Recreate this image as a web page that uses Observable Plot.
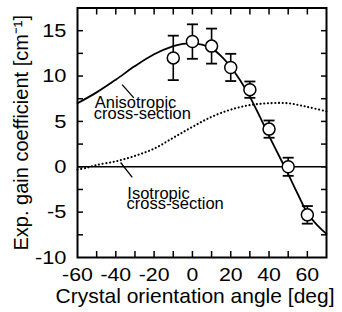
<!DOCTYPE html>
<html><head><meta charset="utf-8">
<script src="https://cdn.jsdelivr.net/npm/d3@7"></script>
<script src="https://cdn.jsdelivr.net/npm/@observablehq/plot@0.6"></script>
<style>body{margin:0;background:#fff;} svg{display:block}</style>
</head><body><div id="chart"></div>
<script>
// measured points
const measAngle = [-10, 0, 10, 20, 30, 40, 50, 60];
const measGain  = [12.0, 13.8, 13.3, 10.95, 8.5, 4.15, 0.0, -5.3];
const measErr   = [2.45, 1.9, 1.93, 1.5, 0.9, 0.95, 1.0, 0.97];
// anisotropic cross-section curve
const anisoAngle = [-60, -50, -40, -30, -20, -10, -5, 0, 5, 10, 15, 20, 25, 30, 35, 40, 45, 50, 55, 60, 65, 70];
const anisoGain  = [7.0, 8.2, 9.6, 11.1, 12.4, 13.3, 13.55, 13.6, 13.45, 13.05, 12.2, 11.0, 9.5, 7.7, 5.6, 3.4, 1.3, -0.8, -3.0, -5.1, -6.4, -7.4];
// isotropic cross-section curve
const isoAngle = [-60, -55, -50, -40, -30, -20, -10, 0, 10, 20, 30, 40, 50, 60, 70];
const isoGain  = [-0.3, -0.1, 0.2, 0.6, 1.2, 2.0, 3.2, 4.4, 5.5, 6.3, 6.8, 7.0, 7.0, 6.6, 6.1];
// ticks
const xTicks = [-50, -40, -30, -20, -10, 0, 10, 20, 30, 40, 50, 60];
const xLabels = [-60, -40, -20, 0, 20, 40, 60];
const yTicks = [-7.5, -5, -2.5, 0, 2.5, 5, 7.5, 10, 12.5, 15];
const yLabels = [-10, -5, 0, 5, 10, 15];
// annotation text
const labelText = ["Anisotropic", "cross-section", "Isotropic", "cross-section"];
const labelX = [-51.0, -51.5, -34.0, -34.4];
const labelY = [6.45, 5.3, -3.5, -4.65];
const leaderX1 = [-36.7, -37.5], leaderY1 = [9.06, 0.47];
const leaderX2 = [-30.6, -31.4], leaderY2 = [7.59, -1.17];
const xTitle = "Crystal orientation angle [deg]";
const yTitle = "Exp. gain coefficient [cm⁻¹]";

const meas = measAngle.map((a, i) => ({a, g: measGain[i], lo: measGain[i] - measErr[i], hi: measGain[i] + measErr[i]}));
const aniso = anisoAngle.map((a, i) => ({a, g: anisoGain[i]}));
const iso = isoAngle.map((a, i) => ({a, g: isoGain[i]}));
const labels = labelText.map((t, i) => ({t, x: labelX[i], y: labelY[i]}));
const leaders = leaderX1.map((x, i) => ({x1: x, y1: leaderY1[i], x2: leaderX2[i], y2: leaderY2[i]}));

const hbar = {draw(ctx, size) { const r = Math.sqrt(size / Math.PI); ctx.moveTo(-r, 0); ctx.lineTo(r, 0); }};
const fmt = d => String(d);

const svg = Plot.plot({
  width: 342, height: 312,
  marginLeft: 77, marginRight: 16, marginTop: 7.5, marginBottom: 55,
  style: {fontFamily: "'Liberation Sans', Arial, sans-serif", color: "black", background: "white"},
  x: {domain: [-60, 70]},
  y: {domain: [-10, 17.5]},
  marks: [
    Plot.ruleY([0], {stroke: "black", strokeWidth: 1.5}),
    Plot.line(iso, {x: "a", y: "g", stroke: "black", strokeWidth: 2.1, strokeDasharray: "0.1,3.6", strokeLinecap: "round", curve: "catmull-rom"}),
    Plot.line(aniso, {x: "a", y: "g", stroke: "black", strokeWidth: 1.8, curve: "catmull-rom"}),
    Plot.ruleX(meas, {x: "a", y1: "lo", y2: "hi", stroke: "black", strokeWidth: 1.6}),
    Plot.dot(meas, {x: "a", y: "lo", symbol: hbar, r: 5.5, stroke: "black", strokeWidth: 1.8}),
    Plot.dot(meas, {x: "a", y: "hi", symbol: hbar, r: 5.5, stroke: "black", strokeWidth: 1.8}),
    Plot.dot(meas, {x: "a", y: "g", r: 6, fill: "white", stroke: "black", strokeWidth: 1.5}),
    Plot.link(leaders, {x1: "x1", y1: "y1", x2: "x2", y2: "y2", stroke: "black", strokeWidth: 1.3}),
    Plot.text(labels, {x: "x", y: "y", text: "t", textAnchor: "start", lineAnchor: "bottom", fontSize: 16.5, fill: "black"}),
    Plot.axisX({ticks: xTicks, anchor: "bottom", tickSize: -6, tickFormat: () => "", strokeWidth: 1.5}),
    Plot.axisX({ticks: xTicks, anchor: "top", tickSize: -6, tickFormat: () => "", strokeWidth: 1.5}),
    Plot.axisY({ticks: yTicks, anchor: "left", tickSize: -6, tickFormat: () => "", strokeWidth: 1.5}),
    Plot.axisY({ticks: yTicks, anchor: "right", tickSize: -6, tickFormat: () => "", strokeWidth: 1.5}),
    Plot.axisX({ticks: xLabels, anchor: "bottom", tickSize: 0, tickPadding: 10, fontSize: 19, tickFormat: fmt, label: null}),
    Plot.axisY({ticks: yLabels, anchor: "left", tickSize: 0, tickPadding: 11, fontSize: 19, tickFormat: fmt, label: null}),
    Plot.text([xTitle], {frameAnchor: "bottom", dy: 45, dx: -7, textAnchor: "middle", lineAnchor: "bottom", fontSize: 21, fill: "black"}),
    Plot.text([yTitle], {frameAnchor: "left", dx: -50, rotate: -90, textAnchor: "middle", lineAnchor: "bottom", fontSize: 20, fill: "black"}),
    Plot.frame({stroke: "black", strokeWidth: 2})
  ]
});
document.getElementById("chart").append(svg);

function stretch(selector, k) {
  svg.querySelectorAll(selector).forEach(t => {
    if (!t.textContent) return;
    const L = t.getComputedTextLength();
    t.setAttribute("textLength", (L * k).toFixed(1));
    t.setAttribute("lengthAdjust", "spacingAndGlyphs");
  });
}
stretch('g[aria-label="x-axis tick label"] text', 1.12);
stretch('g[aria-label="y-axis tick label"] text', 1.15);
</script>
</body></html>
